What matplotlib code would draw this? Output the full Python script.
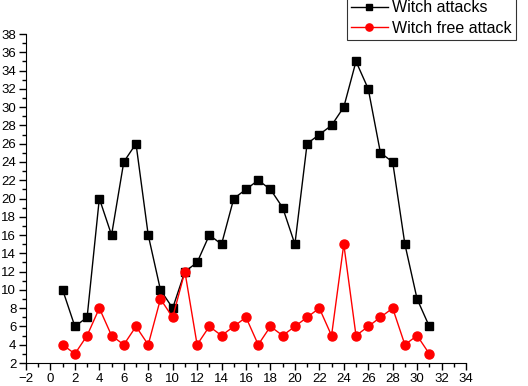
import matplotlib
matplotlib.use("Agg")
import matplotlib.pyplot as plt
from matplotlib.ticker import MultipleLocator

plt.rcParams['font.family'] = ['Liberation Sans', 'DejaVu Sans']

days = list(range(1, 32))
witch_attacks = [10, 6, 7, 20, 16, 24, 26, 16, 10, 8, 12, 13, 16, 15, 20, 21, 22, 21, 19, 15,
                 26, 27, 28, 30, 35, 32, 25, 24, 15, 9, 6]
witch_free = [4, 3, 5, 8, 5, 4, 6, 4, 9, 7, 12, 4, 6, 5, 6, 7, 4, 6, 5, 6,
              7, 8, 5, 15, 5, 6, 7, 8, 4, 5, 3]

fig = plt.figure(figsize=(5.28, 3.86), dpi=100)
ax = fig.add_axes([26/528, 1-363/386, (466-26)/528, (363-34)/386])

ax.plot(days, witch_attacks, color='black', marker='s', markersize=6, linewidth=1,
        label='Witch attacks')
ax.plot(days, witch_free, color='red', marker='o', markersize=6.5, linewidth=1,
        label='Witch free attack')

ax.set_xlim(-2, 34)
ax.set_ylim(2, 38)
ax.xaxis.set_major_locator(MultipleLocator(2))
ax.xaxis.set_minor_locator(MultipleLocator(1))
ax.yaxis.set_major_locator(MultipleLocator(2))
ax.yaxis.set_minor_locator(MultipleLocator(1))
ax.spines['top'].set_visible(False)
ax.spines['right'].set_visible(False)
ax.tick_params(which='major', direction='out', length=5, width=1, labelsize=9.5, pad=2)
ax.tick_params(which='minor', direction='out', length=3, width=1)

leg = fig.legend(loc='lower right', bbox_to_anchor=(516/528, 1-40/386),
                 bbox_transform=fig.transFigure, fontsize=11.5, frameon=True,
                 fancybox=False, edgecolor='black', handlelength=2.3,
                 borderpad=0.25, labelspacing=0.35, handletextpad=0.3,
                 borderaxespad=0, markerscale=0.8)
leg.get_frame().set_linewidth(0.8)

fig.savefig('out.png', dpi=100)
